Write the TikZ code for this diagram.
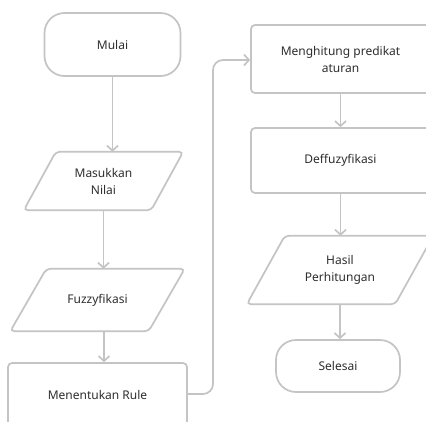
\documentclass[tikz,border=0pt]{standalone}
\usepackage{fontspec}
\setmainfont{Noto Sans}
\usetikzlibrary{arrows.meta,calc}
\definecolor{lineg}{HTML}{C4C4C4}
\definecolor{txt}{HTML}{2E2E2E}
\tikzset{
  base/.style={font=\fontsize{12}{17}\selectfont, text=txt, align=center, inner sep=0pt},
  term/.style={base, draw=lineg, line width=1.7pt, rounded corners=20pt},
  proc/.style={base, draw=lineg, line width=1.7pt, rounded corners=4pt},
  iotext/.style={base},
  para/.style={draw=lineg, line width=1.7pt, rounded corners=4pt},
  arr/.style={draw=lineg, line width=1.7pt, -{Straight Barb[length=5pt,width=11pt]}},
}
\begin{document}
\begin{tikzpicture}[x=1pt,y=-1pt]
\useasboundingbox (0,0) rectangle (426,421);
\clip (0,0) rectangle (426,421);
\fill[white] (0,0) rectangle (426,421);
% nodes
\node[term, minimum width=136pt, minimum height=63pt] (mulai) at (112.5,44.5) {Mulai};
\node[iotext, minimum width=127pt, minimum height=58pt] (mas) at (103.5,181) {Masukkan\\Nilai};
\draw[para] ([xshift=16pt]mas.north west) -- ([xshift=16pt]mas.north east) -- ([xshift=-16pt]mas.south east) -- ([xshift=-16pt]mas.south west) -- cycle;
\node[iotext, minimum width=138pt, minimum height=62pt] (fuz) at (97.5,300) {Fuzzyfikasi};
\draw[para] ([xshift=18pt]fuz.north west) -- ([xshift=18pt]fuz.north east) -- ([xshift=-18pt]fuz.south east) -- ([xshift=-18pt]fuz.south west) -- cycle;
\node[proc, minimum width=179pt, minimum height=64pt] (rule) at (97.5,395) {Menentukan Rule};
\node[proc, minimum width=179pt, minimum height=68pt] (hit) at (340.5,59) {Menghitung predikat\\aturan};
\node[proc, minimum width=179pt, minimum height=65pt] (deff) at (340.5,160.5) {Deffuzyfikasi};
\node[iotext, minimum width=148pt, minimum height=68pt] (has) at (340,270) {Hasil\\Perhitungan};
\draw[para] ([xshift=19pt]has.north west) -- ([xshift=19pt]has.north east) -- ([xshift=-19pt]has.south east) -- ([xshift=-19pt]has.south west) -- cycle;
\node[term, minimum width=124pt, minimum height=52pt] (sel) at (338,366) {Selesai};
% connectors
\draw[arr] (mulai.south) -- (mulai.south |- mas.north);
\draw[arr] (mas.south) -- (mas.south |- fuz.north);
\draw[arr] ([xshift=6.5pt]fuz.south) -- ([xshift=6.5pt]fuz.south |- rule.north);
\coordinate (c1) at (213,394);
\coordinate (c2) at (213,60);
\draw[arr, rounded corners=10pt] (rule.east |- c1) -- (c1) -- (c2) -- (hit.west |- c2);
\draw[arr] (hit.south) -- (hit.south |- deff.north);
\draw[arr] (deff.south) -- (deff.south |- has.north);
\draw[arr] (has.south) -- (has.south |- sel.north);
\end{tikzpicture}
\end{document}
